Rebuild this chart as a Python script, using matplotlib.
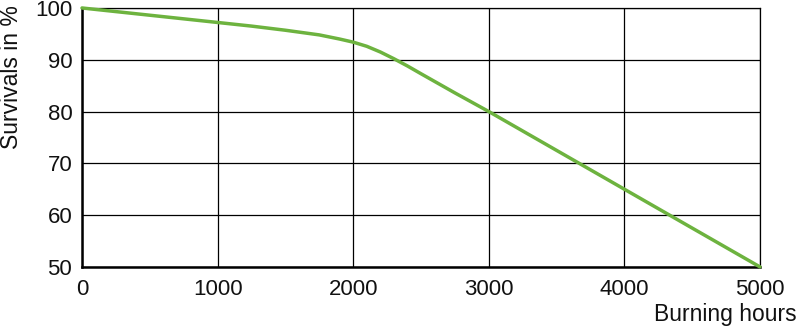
import matplotlib.pyplot as plt

plt.rcParams['font.family'] = ['Liberation Sans', 'DejaVu Sans']

# burning hours vs. survivals (%)
hours = [0, 250, 500, 750, 1000, 1250, 1500, 1750, 1900, 2000, 2100, 2200, 2300,
         2400, 2500, 2750, 3000, 4000, 5000]
survivals = [100, 99.3, 98.6, 97.9, 97.2, 96.5, 95.7, 94.8, 94.0, 93.4, 92.6, 91.5,
             90.2, 88.8, 87.3, 83.6, 80, 65, 50]

xticks = [0, 1000, 2000, 3000, 4000, 5000]
yticks = [50, 60, 70, 80, 90, 100]

fig = plt.figure(figsize=(8, 3.32), dpi=100)
ax = fig.add_axes([0.1025, 0.196, 0.8475, 0.78])

ax.plot(hours, survivals, color='#6db33f', lw=2.5, solid_capstyle='round',
        solid_joinstyle='round', clip_on=False, zorder=3)

ax.set_xlim(0, 5000)
ax.set_ylim(50, 100)
ax.set_xticks(xticks)
ax.set_yticks(yticks)
ax.grid(True, color='black', lw=0.9)
ax.set_axisbelow(True)
ax.tick_params(length=0, labelsize=16, colors='#111111')
ax.tick_params(axis='x', pad=9)
ax.tick_params(axis='y', pad=7)

for s in ['left', 'bottom']:
    ax.spines[s].set_linewidth(1.8)
for s in ['top', 'right']:
    ax.spines[s].set_linewidth(0.9)

fig.text(12 / 800, 1 - 5 / 332, 'Survivals in %', rotation=90, ha='center', va='top',
         fontsize=16.5, color='#111111')
fig.text(797 / 800, 1 - 314 / 332, 'Burning hours', ha='right', va='center',
         fontsize=16.5, color='#111111')

fig.savefig('out.png', dpi=100)
